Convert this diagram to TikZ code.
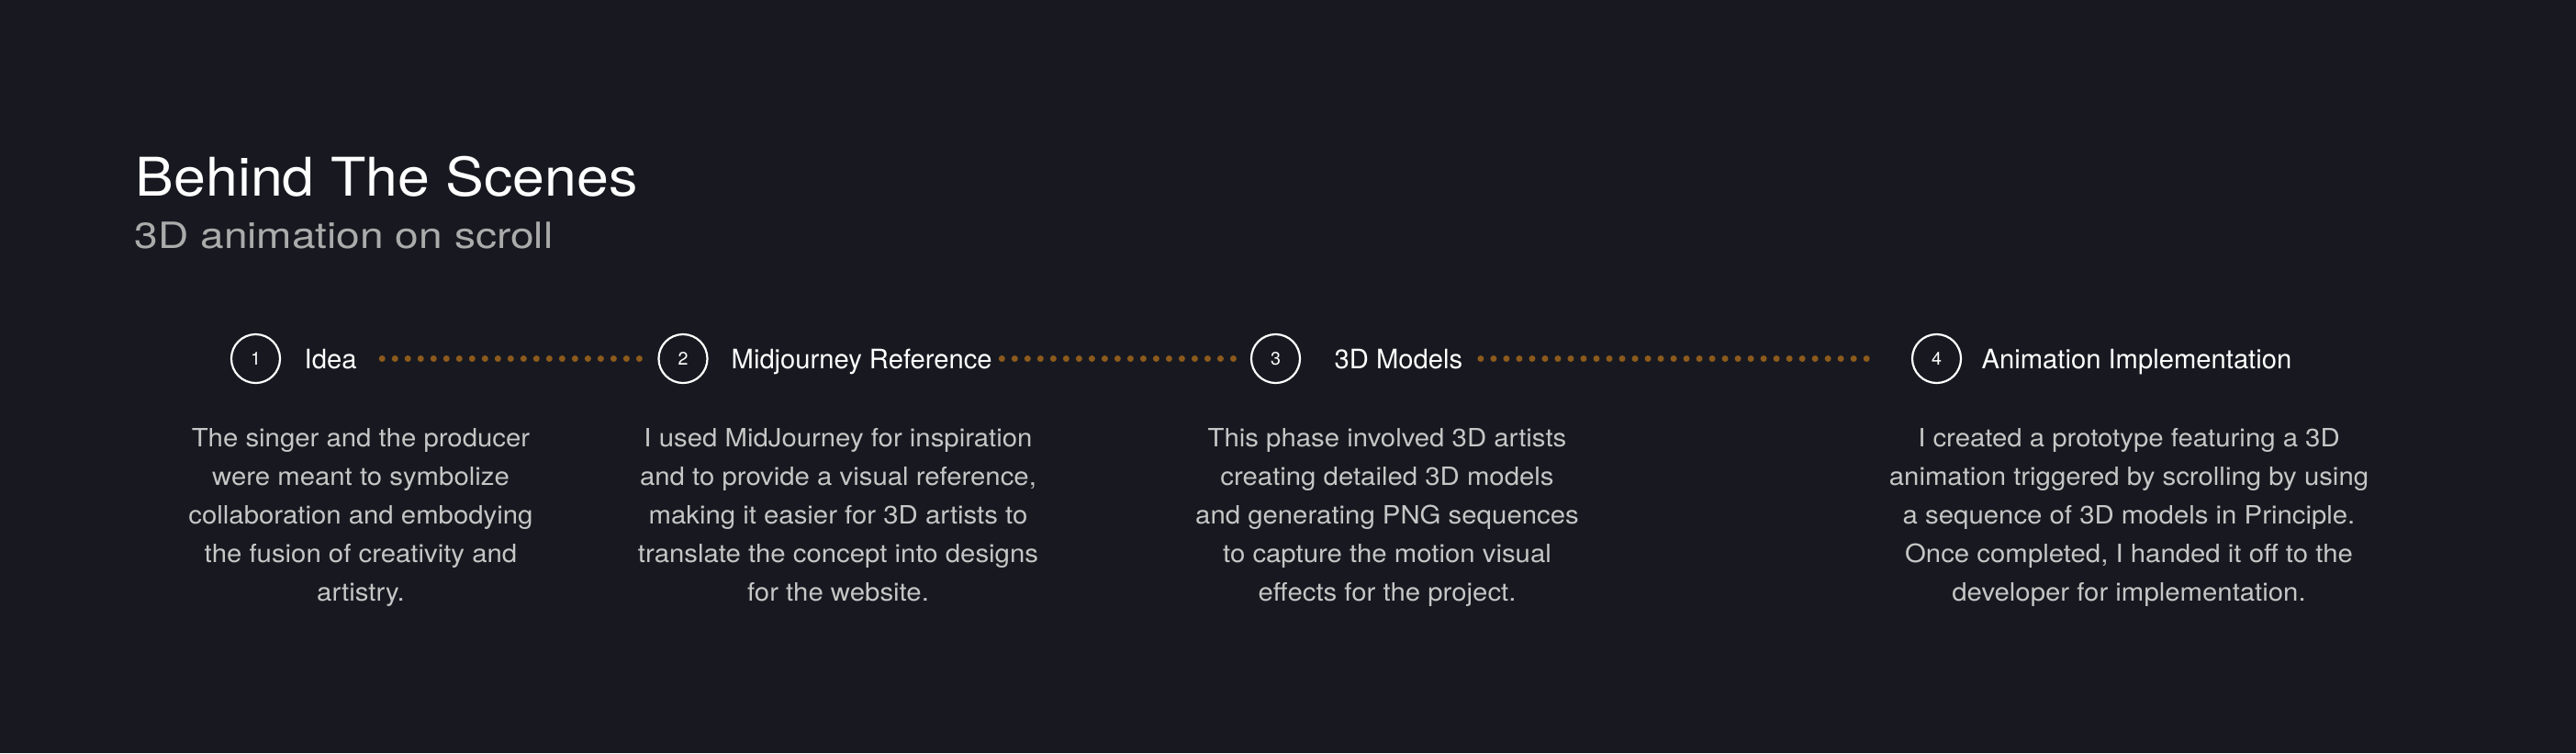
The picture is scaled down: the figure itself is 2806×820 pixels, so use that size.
\documentclass[tikz,border=0pt]{standalone}
\usepackage{fontspec}
\setmainfont{TeX Gyre Heros}
\newfontfamily\titlefont[FakeStretch=1.08]{TeX Gyre Heros}
\newfontfamily\subfont[FakeStretch=1.17]{TeX Gyre Heros}
\newfontfamily\bodyfont[FakeStretch=1.07]{TeX Gyre Heros}
\usetikzlibrary{positioning}
\definecolor{bgnight}{HTML}{181920}
\definecolor{subgray}{HTML}{ABABAB}
\definecolor{bodygray}{HTML}{C6C6C6}
\definecolor{trailbrown}{HTML}{8C5A1C}

\begin{document}
\begin{tikzpicture}[x=0.01cm,y=-0.01cm,
		stepnum/.style={circle,draw=white,line width=0.022cm,minimum size=0.53cm,inner sep=0pt,text=white,font=\fontsize{5.6}{6}\selectfont},
		steplabel/.style={text=white,inner sep=0pt,anchor=base west,font=\fontsize{8.3}{10}\selectfont},
		stepbody/.style={text=bodygray,inner sep=0pt,anchor=north,align=center,font=\bodyfont\fontsize{7.8}{11.95}\selectfont},
		trail/.style={draw=trailbrown,line width=0.07cm,line cap=round,dash pattern=on 0pt off 0.14cm}]
			% background
			\fill[bgnight] (0,0) rectangle (2806,820);
			% heading
			\node[anchor=base west,inner sep=0pt,text=white,font=\titlefont\fontsize{16.5}{19}\selectfont] (title) at (147,213) {Behind The Scenes};
			\node[anchor=base west,inner sep=0pt,text=subgray,font=\subfont\fontsize{11.2}{13}\selectfont] (subtitle) at (146,270) {3D animation on scroll};
			% steps
			\node[stepnum] (c1) at (278.5,390.5) {1};
			\node[steplabel] (t1) at (331,401) {Idea};
			\node[stepnum] (c2) at (744,390.5) {2};
			\node[steplabel] (t2) at (796,401) {Midjourney Reference};
			\node[stepnum] (c3) at (1389.5,390.5) {3};
			\node[steplabel] (t3) at (1453,401) {3D Models};
			\node[stepnum] (c4) at (2109.5,390.5) {4};
			\node[steplabel] (t4) at (2158,401) {Animation Implementation};
			% dotted trail
			\draw[trail,shorten <=0.27cm,shorten >=0.08cm] (t1.east |- c1) -- (c2);
			\draw[trail,shorten <=0.1cm,shorten >=0.08cm] (t2.east |- c2) -- (c3);
			\draw[trail,shorten <=0.19cm,shorten >=0.47cm] (t3.east |- c3) -- (c4);
			% descriptions
			\node[stepbody] (d1) at (393,466) {The singer and the producer\\were meant to symbolize\\collaboration and embodying\\the fusion of creativity and\\artistry.};
			\node[stepbody] (d2) at (913,466) {I used MidJourney for inspiration\\and to provide a visual reference,\\making it easier for 3D artists to\\translate the concept into designs\\for the website.};
			\node[stepbody] (d3) at (1511,466) {This phase involved 3D artists\\creating detailed 3D models\\and generating PNG sequences\\to capture the motion visual\\effects for the project.};
			\node[stepbody] (d4) at (2319,466) {I created a prototype featuring a 3D\\animation triggered by scrolling by using\\a sequence of 3D models in Principle.\\Once completed, I handed it off to the\\developer for implementation.};
		\end{tikzpicture}
\end{document}
